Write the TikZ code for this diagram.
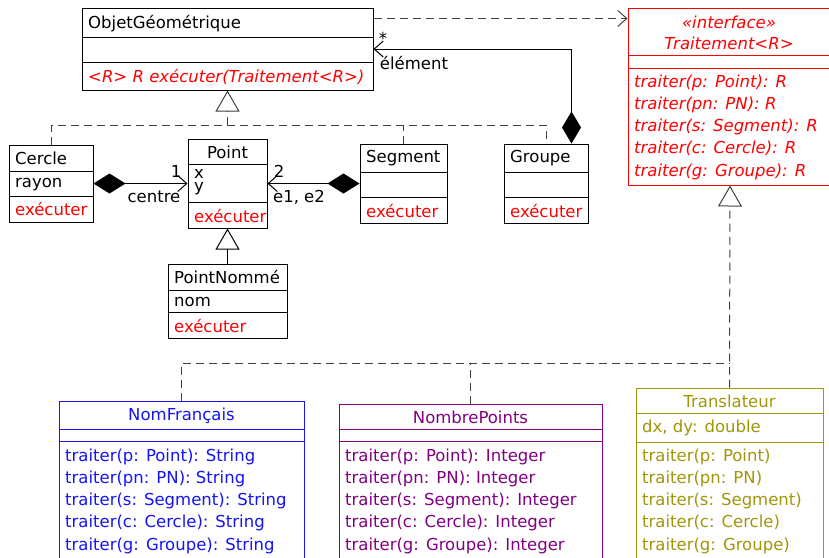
\documentclass[tikz,border=0pt]{standalone}
\usepackage{fontspec}
\setmainfont{DejaVu Sans}
\usepackage{tikz}
\usetikzlibrary{arrows.meta, calc}

\definecolor{umlred}{RGB}{255,0,0}
\definecolor{umlblue}{RGB}{20,20,245}
\definecolor{umlpurple}{RGB}{128,0,128}
\definecolor{umlolive}{RGB}{160,150,10}

\tikzset{
  classbox/.style={draw, line width=1pt, inner sep=0pt},
  member/.style={anchor=base west, inner sep=0pt},
  head/.style={anchor=base, inner sep=0pt},
  ital/.style={font=\fontsize{16.5}{20}\selectfont\itshape},
  assoc/.style={line width=1pt},
  realise/.style={line width=1pt, draw=black!75, dash pattern=on 8pt off 5pt},
  opentip/.style={-{Straight Barb[length=9pt,width=16pt]}},
  gentip/.style={-{Triangle[open,length=21pt,width=24pt]}},
}

\begin{document}
\begin{tikzpicture}[x=1pt,y=-1pt,font=\fontsize{16.5}{20}\selectfont]
    \useasboundingbox (0,0) rectangle (829,557);
    \clip (0,0) rectangle (829,557);

    % ObjetGeometrique
    \node[classbox, minimum width=291pt, minimum height=82pt] (objet) at (227.5,49) {};
    \draw[line width=1pt] (82,37) -- (373,37) (82,62) -- (373,62);
    \node[member] (objetname) at (88,28) {ObjetGéométrique};
    \node[member, umlred, ital] (objetop) at (88,82) {<R> R exécuter(Traitement<R>)};

    % interface Traitement
    \node[classbox, draw=umlred, minimum width=204pt, minimum height=177pt] (traitement) at (730,96.5) {};
    \draw[line width=1pt, umlred] (628,55) -- (832,55) (628,68) -- (832,68);
    \node[head, umlred, ital] (traitstereo) at (729,28) {«interface»};
    \node[head, umlred, ital] (traitname) at (729,49) {Traitement<R>};
    \foreach \arg [count=\i from 0] in {{p: Point}, {pn: PN}, {s: Segment}, {c: Cercle}, {g: Groupe}}
        \node[member, umlred, ital] (traitop\i) at (634,{87+22.25*\i}) {traiter(\arg): R};

    % Cercle
    \node[classbox, minimum width=84pt, minimum height=77pt] (cercle) at (51,183.5) {};
    \draw[line width=1pt] (9,171) -- (93,171) (9,196) -- (93,196);
    \node[member] (cerclename) at (15,164) {Cercle};
    \node[member] (cercleattr) at (15,187) {rayon};
    \node[member, umlred] (cercleop) at (15,215) {exécuter};

    % Point
    \node[classbox, minimum width=79pt, minimum height=89pt] (point) at (227.5,183.5) {};
    \draw[line width=1pt] (188,164) -- (267,164) (188,202) -- (267,202);
    \node[head] (pointname) at (227.5,158) {Point};
    \node[member, text depth=0pt] (pointx) at (194,178) {x};
    \node[member, text height=1.1ex] (pointy) at (194,191.5) {y};
    \node[member, umlred] (pointop) at (194,222) {exécuter};

    % Segment
    \node[classbox, minimum width=87pt, minimum height=79pt] (segment) at (403.5,183.5) {};
    \draw[line width=1pt] (360,172) -- (447,172) (360,197) -- (447,197);
    \node[member] (segmentname) at (366,162) {Segment};
    \node[member, umlred] (segmentop) at (366,217) {exécuter};

    % Groupe
    \node[classbox, minimum width=84pt, minimum height=79pt] (groupe) at (546,183.5) {};
    \draw[line width=1pt] (504,172) -- (588,172) (504,197) -- (588,197);
    \node[member] (groupename) at (510,162) {Groupe};
    \node[member, umlred] (groupeop) at (510,217) {exécuter};

    % PointNomme
    \node[classbox, minimum width=119pt, minimum height=74pt] (pnomme) at (227.5,301) {};
    \draw[line width=1pt] (168,290) -- (287,290) (168,312) -- (287,312);
    \node[member] (pnommename) at (174,283) {PointNommé};
    \node[member] (pnommeattr) at (174,306) {nom};
    \node[member, umlred] (pnommeop) at (174,332) {exécuter};

    % NomFrancais
    \node[classbox, draw=umlblue, minimum width=245pt, minimum height=179pt] (nomfr) at (181.5,490.5) {};
    \draw[line width=1pt, umlblue] (59,429) -- (304,429) (59,441) -- (304,441);
    \node[head, umlblue] (nomfrname) at (181.5,420) {NomFrançais};
    \foreach \arg [count=\i from 0] in {{p: Point}, {pn: PN}, {s: Segment}, {c: Cercle}, {g: Groupe}}
        \node[member, umlblue] (nomfrop\i) at (65,{461+22.25*\i}) {traiter(\arg): String};

    % NombrePoints
    \node[classbox, draw=umlpurple, minimum width=263pt, minimum height=176pt] (nombre) at (470.5,492) {};
    \draw[line width=1pt, umlpurple] (339,429) -- (602,429) (339,441) -- (602,441);
    \node[head, umlpurple] (nombrename) at (470.5,423) {NombrePoints};
    \foreach \arg [count=\i from 0] in {{p: Point}, {pn: PN}, {s: Segment}, {c: Cercle}, {g: Groupe}}
        \node[member, umlpurple] (nombreop\i) at (345,{461+22.25*\i}) {traiter(\arg): Integer};

    % Translateur
    \node[classbox, draw=umlolive, minimum width=187pt, minimum height=192pt] (trans) at (729.5,484) {};
    \draw[line width=1pt, umlolive] (636,413) -- (823,413) (636,442) -- (823,442);
    \node[head, umlolive] (transname) at (729.5,407) {Translateur};
    \node[member, umlolive] (transattr) at (642,432) {dx, dy: double};
    \foreach \arg [count=\i from 0] in {{p: Point}, {pn: PN}, {s: Segment}, {c: Cercle}, {g: Groupe}}
        \node[member, umlolive] (transop\i) at (642,{461+22.25*\i}) {traiter(\arg)};

    % dependency
    \draw[realise, opentip] ($(objet.north east)+(0,11)$) -- ($(traitement.north west)+(0,11)$);

    % aggregation of the group
    \draw[assoc, {Diamond[length=32pt,width=19pt]}-{Straight Barb[length=9pt,width=16pt]}]
        ($(groupe.north east)+(-17,0)$) |- (objet.east);
    \node[head] (elemmult) at (383,44) {*};
    \node[head] (elemrole) at (414,69) {élément};

    % compositions
    \draw[assoc, {Diamond[length=32pt,width=20pt]}-{Straight Barb[length=9pt,width=16pt]}] (cercle.east) -- (point.west);
    \node[head] (centremult) at (176,177) {1};
    \node[head] (centrerole) at (154,202) {centre};
    \draw[assoc, {Diamond[length=32pt,width=20pt]}-{Straight Barb[length=9pt,width=16pt]}] (segment.west) -- (point.east);
    \node[head] (segmult) at (279,177) {2};
    \node[head] (segrole) at (299,202) {e1, e2};

    % generalisations
    \coordinate (topjoin) at (227.5,125);
    \draw[realise] (cercle.north) |- (groupe.north |- topjoin) -- (groupe.north);
    \draw[realise] (segment.north) -- (segment.north |- topjoin);
    \draw[realise, gentip] (topjoin) -- (objet.south);
    \draw[assoc, gentip] (pnomme.north) -- (point.south);

    % realisations of the interface
    \coordinate (botjoin) at (729.5,363);
    \draw[realise] (nomfr.north) |- (botjoin);
    \draw[realise] (nombre.north) -- (nombre.north |- botjoin);
    \draw[realise, gentip] (trans.north) -- (traitement.south);
\end{tikzpicture}
\end{document}
